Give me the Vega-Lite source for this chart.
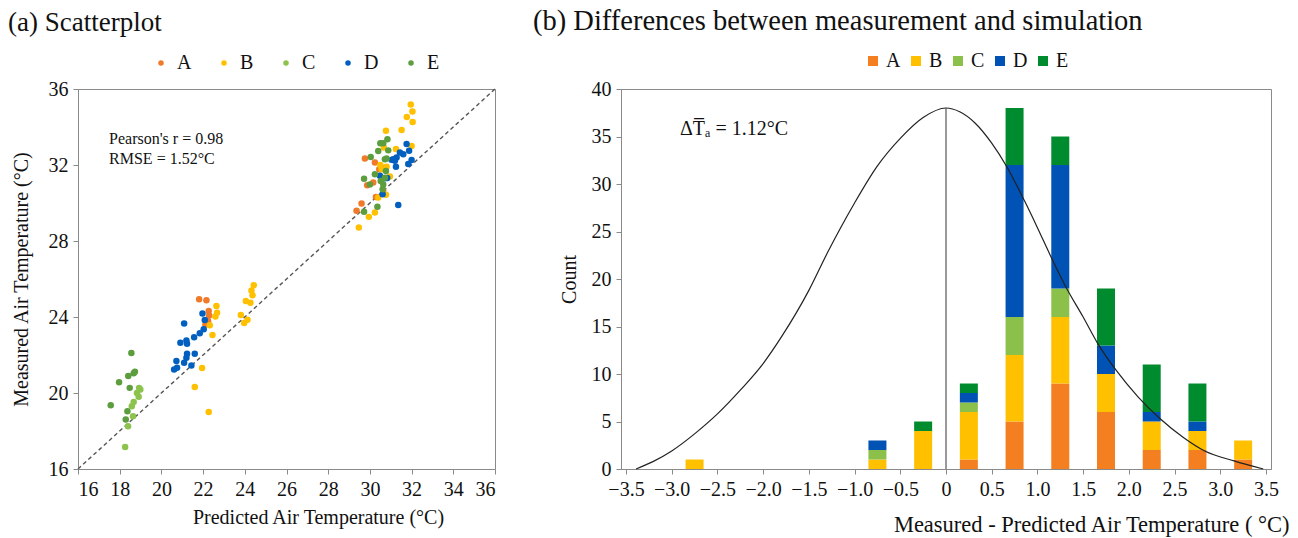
{
  "$schema": "https://vega.github.io/schema/vega-lite/v6.json",
  "padding": {"left": 7, "top": 6, "right": 4, "bottom": 5},
  "background": "white",
  "config": {
    "font": "Liberation Serif",
    "view": {"stroke": "#8a8a8a", "strokeWidth": 1},
    "axis": {"labelFont": "Liberation Serif", "titleFont": "Liberation Serif", "labelFontSize": 20, "titleFontSize": 20, "titleFontWeight": "normal", "labelColor": "#111", "titleColor": "#111", "domainColor": "#8a8a8a", "tickColor": "#8a8a8a", "tickSize": 5, "grid": false, "labelPadding": 5},
    "legend": {"labelFont": "Liberation Serif", "labelFontSize": 20, "labelColor": "#111"},
    "title": {"font": "Liberation Serif", "fontSize": 27, "fontWeight": "normal", "color": "#111", "anchor": "start", "frame": "bounds"}
  },
  "datasets": {
    "scatter": [
      {"g":"A","p":29.76,"m":32.34},{"g":"A","p":30.24,"m":32.13},{"g":"A","p":30.16,"m":31.08},{"g":"A","p":29.87,"m":30.94},{"g":"A","p":30.45,"m":31.78},{"g":"A","p":30.64,"m":30.64},{"g":"A","p":30.29,"m":30.32},{"g":"A","p":29.6,"m":29.97},{"g":"A","p":29.36,"m":29.59},{"g":"A","p":30.72,"m":31.86},
      {"g":"A","p":21.81,"m":24.93},{"g":"A","p":22.16,"m":24.88},{"g":"A","p":22.27,"m":24.31},{"g":"A","p":22.29,"m":24.08},{"g":"A","p":22.24,"m":23.79},{"g":"A","p":22.11,"m":23.61},
      {"g":"B","p":31.96,"m":35.19},{"g":"B","p":32.04,"m":34.81},{"g":"B","p":31.77,"m":34.53},{"g":"B","p":32.05,"m":34.26},{"g":"B","p":31.52,"m":33.84},{"g":"B","p":30.77,"m":33.8},{"g":"B","p":32.0,"m":33.0},{"g":"B","p":31.25,"m":32.84},{"g":"B","p":30.67,"m":32.92},{"g":"B","p":30.8,"m":31.91},{"g":"B","p":30.56,"m":31.78},{"g":"B","p":30.96,"m":31.4},{"g":"B","p":30.77,"m":30.43},{"g":"B","p":30.4,"m":30.29},{"g":"B","p":30.24,"m":29.5},{"g":"B","p":29.95,"m":29.27},{"g":"B","p":29.47,"m":28.71},{"g":"B","p":30.5,"m":32.0},
      {"g":"B","p":22.64,"m":24.58},{"g":"B","p":22.67,"m":24.22},{"g":"B","p":22.59,"m":24.03},{"g":"B","p":22.32,"m":23.56},{"g":"B","p":22.45,"m":23.05},{"g":"B","p":24.43,"m":25.67},{"g":"B","p":24.32,"m":25.4},{"g":"B","p":24.37,"m":25.14},{"g":"B","p":24.05,"m":24.84},{"g":"B","p":24.27,"m":24.75},{"g":"B","p":23.81,"m":24.1},{"g":"B","p":24.13,"m":23.86},{"g":"B","p":23.97,"m":23.68},{"g":"B","p":21.95,"m":21.31},{"g":"B","p":21.6,"m":20.31},{"g":"B","p":22.27,"m":19.0},
      {"g":"C","p":18.93,"m":20.27},{"g":"C","p":18.99,"m":20.18},{"g":"C","p":18.83,"m":20.0},{"g":"C","p":18.91,"m":19.8},{"g":"C","p":18.67,"m":19.53},{"g":"C","p":18.58,"m":19.3},{"g":"C","p":18.64,"m":18.78},{"g":"C","p":18.4,"m":18.25},{"g":"C","p":18.26,"m":17.16},
      {"g":"D","p":31.76,"m":33.1},{"g":"D","p":31.88,"m":32.75},{"g":"D","p":31.44,"m":32.66},{"g":"D","p":31.6,"m":32.57},{"g":"D","p":31.28,"m":32.4},{"g":"D","p":31.04,"m":32.27},{"g":"D","p":31.2,"m":32.22},{"g":"D","p":32.0,"m":32.26},{"g":"D","p":31.84,"m":32.05},{"g":"D","p":31.25,"m":31.91},{"g":"D","p":30.48,"m":31.43},{"g":"D","p":30.83,"m":31.31},{"g":"D","p":30.61,"m":30.46},{"g":"D","p":31.36,"m":29.9},{"g":"D","p":30.72,"m":31.3},{"g":"D","p":31.12,"m":32.3},
      {"g":"D","p":21.09,"m":23.66},{"g":"D","p":21.97,"m":24.19},{"g":"D","p":22.08,"m":23.84},{"g":"D","p":22.03,"m":23.35},{"g":"D","p":21.84,"m":23.14},{"g":"D","p":21.57,"m":22.94},{"g":"D","p":20.91,"m":22.64},{"g":"D","p":21.2,"m":22.77},{"g":"D","p":21.23,"m":22.59},{"g":"D","p":21.6,"m":22.06},{"g":"D","p":21.23,"m":22.06},{"g":"D","p":21.2,"m":21.85},{"g":"D","p":20.72,"m":21.68},{"g":"D","p":21.09,"m":21.59},{"g":"D","p":21.44,"m":21.45},{"g":"D","p":20.75,"m":21.33},{"g":"D","p":20.61,"m":21.24},
      {"g":"E","p":18.56,"m":22.1},{"g":"E","p":18.67,"m":21.04},{"g":"E","p":18.73,"m":21.12},{"g":"E","p":18.41,"m":20.9},{"g":"E","p":17.97,"m":20.57},{"g":"E","p":18.48,"m":20.27},{"g":"E","p":17.57,"m":19.36},{"g":"E","p":18.37,"m":19.04},{"g":"E","p":18.29,"m":18.6},
      {"g":"E","p":30.64,"m":33.14},{"g":"E","p":30.84,"m":33.35},{"g":"E","p":30.5,"m":33.14},{"g":"E","p":30.88,"m":32.77},{"g":"E","p":30.4,"m":32.74},{"g":"E","p":30.04,"m":32.42},{"g":"E","p":30.72,"m":32.3},{"g":"E","p":30.8,"m":32.34},{"g":"E","p":30.24,"m":31.51},{"g":"E","p":29.72,"m":31.28},{"g":"E","p":30.52,"m":31.16},{"g":"E","p":30.64,"m":30.98},{"g":"E","p":30.0,"m":30.98},{"g":"E","p":30.36,"m":29.8},{"g":"E","p":29.72,"m":29.54},{"g":"E","p":30.77,"m":31.68},{"g":"E","p":30.72,"m":31.33},{"g":"E","p":30.61,"m":30.72}
    ],
    "diag": [{"x": 16, "y": 16, "x2": 36, "y2": 36}],
    "stats": [{"x": 17.49, "y": 33.1, "t": "Pearson's r = 0.98"}, {"x": 17.49, "y": 32.05, "t": "RMSE = 1.52°C"}],
    "hist": [
      {"bin":-2.75,"g":"B","n":1},
      {"bin":-0.75,"g":"B","n":1},{"bin":-0.75,"g":"C","n":1},{"bin":-0.75,"g":"D","n":1},
      {"bin":-0.25,"g":"B","n":4},{"bin":-0.25,"g":"E","n":1},
      {"bin":0.25,"g":"A","n":1},{"bin":0.25,"g":"B","n":5},{"bin":0.25,"g":"C","n":1},{"bin":0.25,"g":"D","n":1},{"bin":0.25,"g":"E","n":1},
      {"bin":0.75,"g":"A","n":5},{"bin":0.75,"g":"B","n":7},{"bin":0.75,"g":"C","n":4},{"bin":0.75,"g":"D","n":16},{"bin":0.75,"g":"E","n":6},
      {"bin":1.25,"g":"A","n":9},{"bin":1.25,"g":"B","n":7},{"bin":1.25,"g":"C","n":3},{"bin":1.25,"g":"D","n":13},{"bin":1.25,"g":"E","n":3},
      {"bin":1.75,"g":"A","n":6},{"bin":1.75,"g":"B","n":4},{"bin":1.75,"g":"D","n":3},{"bin":1.75,"g":"E","n":6},
      {"bin":2.25,"g":"A","n":2},{"bin":2.25,"g":"B","n":3},{"bin":2.25,"g":"D","n":1},{"bin":2.25,"g":"E","n":5},
      {"bin":2.75,"g":"A","n":2},{"bin":2.75,"g":"B","n":2},{"bin":2.75,"g":"D","n":1},{"bin":2.75,"g":"E","n":4},
      {"bin":3.25,"g":"A","n":1},{"bin":3.25,"g":"B","n":2}
    ],
    "curve": [
      {"x":-3.39,"y":0},{"x":-3.2,"y":0.8},{"x":-3.0,"y":1.9},{"x":-2.75,"y":3.7},{"x":-2.5,"y":5.8},{"x":-2.25,"y":8.3},{"x":-2.0,"y":11.1},{"x":-1.8,"y":13.9},{"x":-1.5,"y":18.8},{"x":-1.3,"y":22.7},{"x":-1.0,"y":28.0},{"x":-0.75,"y":31.9},{"x":-0.5,"y":34.8},{"x":-0.25,"y":37.0},{"x":0,"y":38.0},{"x":0.15,"y":37.6},{"x":0.32,"y":36.4},{"x":0.5,"y":34.3},{"x":0.66,"y":31.9},{"x":0.86,"y":28.2},{"x":1.0,"y":25.4},{"x":1.145,"y":22.4},{"x":1.32,"y":19.0},{"x":1.5,"y":16.0},{"x":1.66,"y":13.2},{"x":1.86,"y":10.4},{"x":2.1,"y":7.6},{"x":2.33,"y":5.4},{"x":2.6,"y":3.3},{"x":2.83,"y":1.9},{"x":3.15,"y":0.85},{"x":3.47,"y":0}
    ],
    "vline": [{"x": 0, "y": 0, "y2": 38}],
    "dta": [{"x": -2.91, "y": 35.2, "t": "ΔT̅ₐ = 1.12°C"}]
  },
  "hconcat": [
    {
      "width": 417,
      "height": 380,
      "title": {"text": "(a) Scatterplot", "offset": 16, "dx": -3},
      "layer": [
        {
          "data": {"name": "diag"},
          "mark": {"type": "rule", "color": "#555", "strokeDash": [4, 3], "strokeWidth": 1.4},
          "encoding": {
            "x": {"field": "x", "type": "quantitative", "scale": {"domain": [16, 36], "nice": false}},
            "y": {"field": "y", "type": "quantitative", "scale": {"domain": [16, 36], "nice": false}},
            "x2": {"field": "x2"},
            "y2": {"field": "y2"}
          }
        },
        {
          "data": {"name": "scatter"},
          "mark": {"type": "circle", "size": 42, "opacity": 1},
          "encoding": {
            "x": {"field": "p", "type": "quantitative", "scale": {"domain": [16, 36], "nice": false},
                  "axis": {"title": "Predicted Air Temperature (°C)", "values": [16,17,18,19,20,21,22,23,24,25,26,27,28,29,30,31,32,33,34,35,36], "labelExpr": "datum.value % 2 == 0 ? datum.label : ''", "titlePadding": 8, "titleX": 240}},
            "y": {"field": "m", "type": "quantitative", "scale": {"domain": [16, 36], "nice": false},
                  "axis": {"title": "Measured Air Temperature (°C)", "values": [16,17,18,19,20,21,22,23,24,25,26,27,28,29,30,31,32,33,34,35,36], "labelExpr": "datum.value % 2 == 0 ? datum.label : ''", "titlePadding": 17}},
            "color": {"field": "g", "type": "nominal",
                      "scale": {"domain": ["A","B","C","D","E"], "range": ["#F07A2A", "#FFC000", "#8CC34C", "#005FBF", "#5C9E3E"]},
                      "legend": {"title": null, "orient": "none", "direction": "horizontal", "legendX": 73, "legendY": -36, "symbolType": "circle", "symbolSize": 30, "columnPadding": 22, "labelOffset": 6}}
          }
        },
        {
          "data": {"name": "stats"},
          "mark": {"type": "text", "align": "left", "baseline": "alphabetic", "fontSize": 16, "color": "#111"},
          "encoding": {
            "x": {"field": "x", "type": "quantitative"},
            "y": {"field": "y", "type": "quantitative"},
            "text": {"field": "t"}
          }
        }
      ]
    },
    {
      "width": 650,
      "height": 380,
      "title": {"text": "(b) Differences between measurement and simulation", "offset": 16, "dx": -26, "fontSize": 28.5},
      "layer": [
        {
          "data": {"name": "hist"},
          "mark": {"type": "bar", "width": 18},
          "encoding": {
            "x": {"field": "bin", "type": "quantitative", "scale": {"domain": [-3.5, 3.5], "nice": false},
                  "axis": {"title": "Measured - Predicted Air Temperature ( °C)", "values": [-3.5,-3,-2.5,-2,-1.5,-1,-0.5,0,0.5,1,1.5,2,2.5,3,3.5], "labelExpr": "datum.value == 0 ? '0' : format(datum.value, '.1f')", "titleFontSize": 22.5, "titleAnchor": "end", "titleAlign": "right", "titleX": 668, "titleY": 44, "titleBaseline": "top"}},
            "y": {"field": "n", "type": "quantitative", "stack": "zero", "scale": {"domain": [0, 40], "nice": false},
                  "axis": {"title": "Count", "values": [0,5,10,15,20,25,30,35,40], "titlePadding": 12}},
            "color": {"field": "g", "type": "nominal",
                      "scale": {"domain": ["A","B","C","D","E"], "range": ["#F47F20", "#FFC000", "#8BC14A", "#0052B4", "#008C2E"]},
                      "legend": {"title": null, "orient": "none", "direction": "horizontal", "legendX": 242, "legendY": -38, "symbolType": "square", "symbolSize": 100, "symbolStrokeWidth": 0, "columnPadding": 5, "labelOffset": 3}},
            "order": {"field": "g", "sort": "ascending"}
          }
        },
        {
          "data": {"name": "curve"},
          "mark": {"type": "line", "color": "#222", "strokeWidth": 1.2, "interpolate": "monotone"},
          "encoding": {
            "x": {"field": "x", "type": "quantitative"},
            "y": {"field": "y", "type": "quantitative"}
          }
        },
        {
          "data": {"name": "vline"},
          "mark": {"type": "rule", "color": "#555", "strokeWidth": 1.2},
          "encoding": {
            "x": {"field": "x", "type": "quantitative"},
            "y": {"field": "y", "type": "quantitative"},
            "y2": {"field": "y2"}
          }
        },
        {
          "data": {"name": "dta"},
          "mark": {"type": "text", "align": "left", "baseline": "alphabetic", "fontSize": 20, "color": "#111"},
          "encoding": {
            "x": {"field": "x", "type": "quantitative"},
            "y": {"field": "y", "type": "quantitative"},
            "text": {"field": "t"}
          }
        }
      ]
    }
  ],
  "spacing": 35,
  "resolve": {"scale": {"color": "independent"}, "legend": {"color": "independent"}}
}
